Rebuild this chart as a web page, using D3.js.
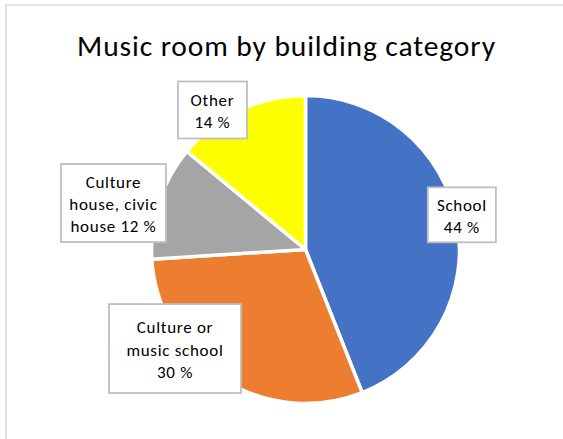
<!DOCTYPE html>
<html>
<head>
<meta charset="utf-8">
<script src="https://cdn.jsdelivr.net/npm/d3@7"></script>
<style>
  html, body { margin: 0; padding: 0; background: #fff; }
  svg { display: block; }
  text { font-family: Carlito, Calibri, Lato, "Noto Sans", sans-serif; fill: #000; }
</style>
</head>
<body>
<svg id="chart" width="563" height="439"></svg>
<script>
// Share of music rooms per building category (percent)
const categories = ["School", "Culture or music school", "Culture house, civic house", "Other"];
const shares = [44, 30, 12, 14];
const title = "Music room by building category";

// Line breaks used inside each data label box
const labelLines = [
  ["School", "{v} %"],
  ["Culture or", "music school", "{v} %"],
  ["Culture", "house, civic", "house {v} %"],
  ["Other", "{v} %"]
];

// Label box placement: polar angle (deg, clockwise from top), radius factor, box size
const labelLayout = [
  { angle: 77.5, k: 1.04, w: 68, h: 55 },
  { angle: 232.8, k: 1.064, w: 132, h: 89 },
  { angle: 283.6, k: 1.283, w: 105, h: 78 },
  { angle: 326.3, k: 1.089, w: 69, h: 57 }
];

const palette = ["#4472C4", "#ED7D31", "#A5A5A5", "#FFFF00"];

const W = 563, H = 439;
const cx = 305.5, cy = 249.5, R = 154;

const svg = d3.select("#chart");

// Chart-area frame (clipped on the right and bottom edges)
svg.append("rect")
  .attr("x", 6).attr("y", 5)
  .attr("width", W).attr("height", H)
  .attr("fill", "#fff")
  .attr("stroke", "#d9d9d9")
  .attr("stroke-width", 1.5);

svg.append("text")
  .attr("x", 286.5).attr("y", 55.7)
  .attr("text-anchor", "middle")
  .attr("font-size", 29.5)
  .attr("letter-spacing", 0.9)
  .text(title);

const color = d3.scaleOrdinal().domain(categories).range(palette);

const pie = d3.pie().sort(null).value(d => d.value);
const data = categories.map((c, i) => ({ category: c, value: shares[i], i }));
const arcs = pie(data);

const arc = d3.arc().innerRadius(0).outerRadius(R);

const g = svg.append("g").attr("transform", `translate(${cx},${cy})`);

g.selectAll("path.slice")
  .data(arcs)
  .enter().append("path")
  .attr("class", "slice")
  .attr("d", arc)
  .attr("fill", d => color(d.data.category))
  .attr("stroke", "#fff")
  .attr("stroke-width", 3.5)
  .attr("stroke-linejoin", "round");

// Data labels in boxes
const lineH = 22.4;
const labels = g.selectAll("g.label")
  .data(arcs)
  .enter().append("g")
  .attr("class", "label")
  .attr("transform", d => {
    const L = labelLayout[d.index];
    const a = L.angle * Math.PI / 180;
    const r = R * L.k;
    return `translate(${r * Math.sin(a)},${-r * Math.cos(a)})`;
  });

labels.append("rect")
  .attr("x", d => -labelLayout[d.index].w / 2)
  .attr("y", d => -labelLayout[d.index].h / 2)
  .attr("width", d => labelLayout[d.index].w)
  .attr("height", d => labelLayout[d.index].h)
  .attr("fill", "#fff")
  .attr("stroke", "#bfbfbf")
  .attr("stroke-width", 1.8);

labels.each(function(d) {
  const lines = labelLines[d.index].map(s => s.replace("{v}", d.data.value));
  const n = lines.length;
  const t = d3.select(this).append("text")
    .attr("text-anchor", "middle")
    .attr("font-size", 17)
    .attr("letter-spacing", 0.7);
  lines.forEach((s, j) => {
    t.append("tspan")
      .attr("x", 0)
      .attr("y", (j - (n - 1) / 2) * lineH + 7)
      .text(s);
  });
});
</script>
</body>
</html>
